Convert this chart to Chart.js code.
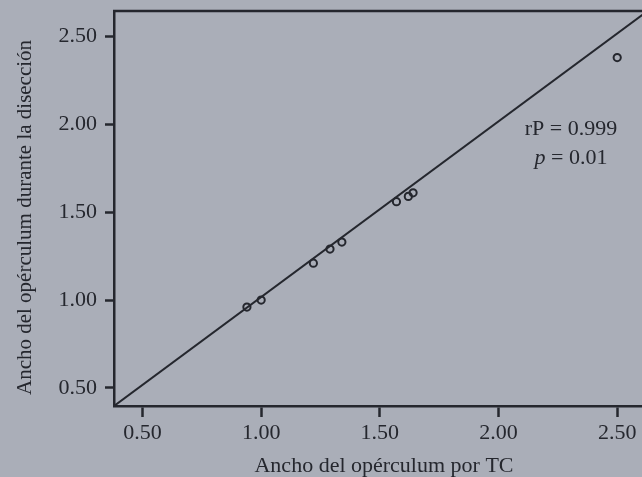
<!DOCTYPE html>
<html>
<head>
<meta charset="utf-8">
<script src="https://cdn.jsdelivr.net/npm/chart.js@4/dist/chart.umd.min.js"></script>
<style>
  html, body { margin: 0; padding: 0; background: #aaaeb8; overflow: hidden; }
  #wrap { width: 660px; height: 477px; }
</style>
</head>
<body>
<div id="wrap"><canvas id="c" width="660" height="477"></canvas></div>
<script>
// Opercular width measured on CT vs. measured during dissection
const tcWidth = [0.94, 1.00, 1.22, 1.29, 1.34, 1.57, 1.62, 1.64, 2.50];
const dissectionWidth = [0.96, 1.00, 1.21, 1.29, 1.33, 1.56, 1.59, 1.61, 2.38];

// Reference line across the plot
const fitX = [0.38, 2.66];
const fitY = [0.397, 2.677];

const xTicks = [0.5, 1.0, 1.5, 2.0, 2.5];
const yTicks = [0.5, 1.0, 1.5, 2.0, 2.5];

const xTitle = 'Ancho del opérculum por TC';
const yTitle = 'Ancho del opérculum durante la disección';
const statLines = ['rP = 0.999', 'p = 0.01'];

const ink = '#25272e';
const serif = '"Liberation Serif", "DejaVu Serif", serif';

const frameTop = {
  id: 'frameTop',
  afterDatasetsDraw(chart) {
    const { ctx, chartArea } = chart;
    ctx.save();
    ctx.strokeStyle = ink;
    ctx.lineWidth = 2.5;
    ctx.beginPath();
    ctx.moveTo(chartArea.left - 1, chartArea.top);
    ctx.lineTo(chartArea.right, chartArea.top);
    ctx.stroke();
    ctx.restore();
  }
};

// vertical axis title, set slightly below the middle of the axis
const yAxisTitle = {
  id: 'yAxisTitle',
  afterDraw(chart) {
    const { ctx, scales } = chart;
    const cy = scales.y.getPixelForValue(1.47);
    ctx.save();
    ctx.translate(25, cy);
    ctx.rotate(-Math.PI / 2);
    ctx.fillStyle = ink;
    ctx.font = '21px ' + serif;
    ctx.textAlign = 'center';
    ctx.textBaseline = 'middle';
    ctx.fillText(yTitle, 0, 0);
    ctx.restore();
  }
};

const statsLabel = {
  id: 'statsLabel',
  afterDatasetsDraw(chart) {
    const { ctx, scales } = chart;
    const cx = scales.x.getPixelForValue(2.305);
    const y1 = scales.y.getPixelForValue(1.975);
    const y2 = scales.y.getPixelForValue(1.805);
    ctx.save();
    ctx.fillStyle = ink;
    ctx.textBaseline = 'middle';
    ctx.textAlign = 'center';
    ctx.font = '22px ' + serif;
    ctx.fillText(statLines[0], cx, y1);
    // second line: italic "p" followed by upright text
    const rest = statLines[1].slice(1);
    ctx.font = 'italic 22px ' + serif;
    const wp = ctx.measureText('p').width;
    ctx.font = '22px ' + serif;
    const wr = ctx.measureText(rest).width;
    const x0 = cx - (wp + wr) / 2;
    ctx.textAlign = 'left';
    ctx.font = 'italic 22px ' + serif;
    ctx.fillText('p', x0, y2);
    ctx.font = '22px ' + serif;
    ctx.fillText(rest, x0 + wp, y2);
    ctx.restore();
  }
};

new Chart(document.getElementById('c'), {
  data: {
    datasets: [
      {
        type: 'line',
        data: fitX.map((x, i) => ({ x, y: fitY[i] })),
        borderColor: ink,
        borderWidth: 2,
        pointRadius: 0,
        fill: false
      },
      {
        type: 'scatter',
        data: tcWidth.map((x, i) => ({ x, y: dissectionWidth[i] })),
        pointStyle: 'circle',
        pointRadius: 3.6,
        pointBorderWidth: 2,
        borderColor: ink,
        backgroundColor: 'rgba(0,0,0,0)'
      }
    ]
  },
  options: {
    responsive: false,
    devicePixelRatio: 1,
    animation: false,
    layout: { padding: { top: 11, left: 0, right: 0, bottom: 0 } },
    plugins: { legend: { display: false }, tooltip: { enabled: false } },
    scales: {
      x: {
        type: 'linear',
        min: 0.38,
        max: 2.655,
        afterFit(s) { s.height = 71; s.paddingLeft = 0; s.paddingRight = 0; },
        afterBuildTicks(s) { s.ticks = xTicks.map(v => ({ value: v })); },
        border: { display: true, color: ink, width: 2.5 },
        grid: { drawOnChartArea: false, drawTicks: true, tickLength: 11, tickWidth: 2.5, tickColor: ink },
        ticks: {
          color: ink,
          padding: 3,
          font: { family: serif, size: 22 },
          callback: v => Number(v).toFixed(2),
          maxRotation: 0
        },
        title: {
          display: true,
          text: xTitle,
          color: ink,
          font: { family: serif, size: 22, lineHeight: 1 },
          padding: { top: 0, bottom: 0 }
        }
      },
      y: {
        type: 'linear',
        min: 0.397,
        max: 2.645,
        afterFit(s) { s.width = 114; s.paddingTop = 0; s.paddingBottom = 0; },
        afterBuildTicks(s) { s.ticks = yTicks.map(v => ({ value: v })); },
        border: { display: true, color: ink, width: 2.5 },
        grid: { drawOnChartArea: false, drawTicks: true, tickLength: 9, tickWidth: 2.5, tickColor: ink },
        ticks: {
          color: ink,
          padding: 8,
          font: { family: serif, size: 22 },
          callback: v => Number(v).toFixed(2)
        }
      }
    }
  },
  plugins: [frameTop, statsLabel, yAxisTitle]
});
</script>
</body>
</html>
